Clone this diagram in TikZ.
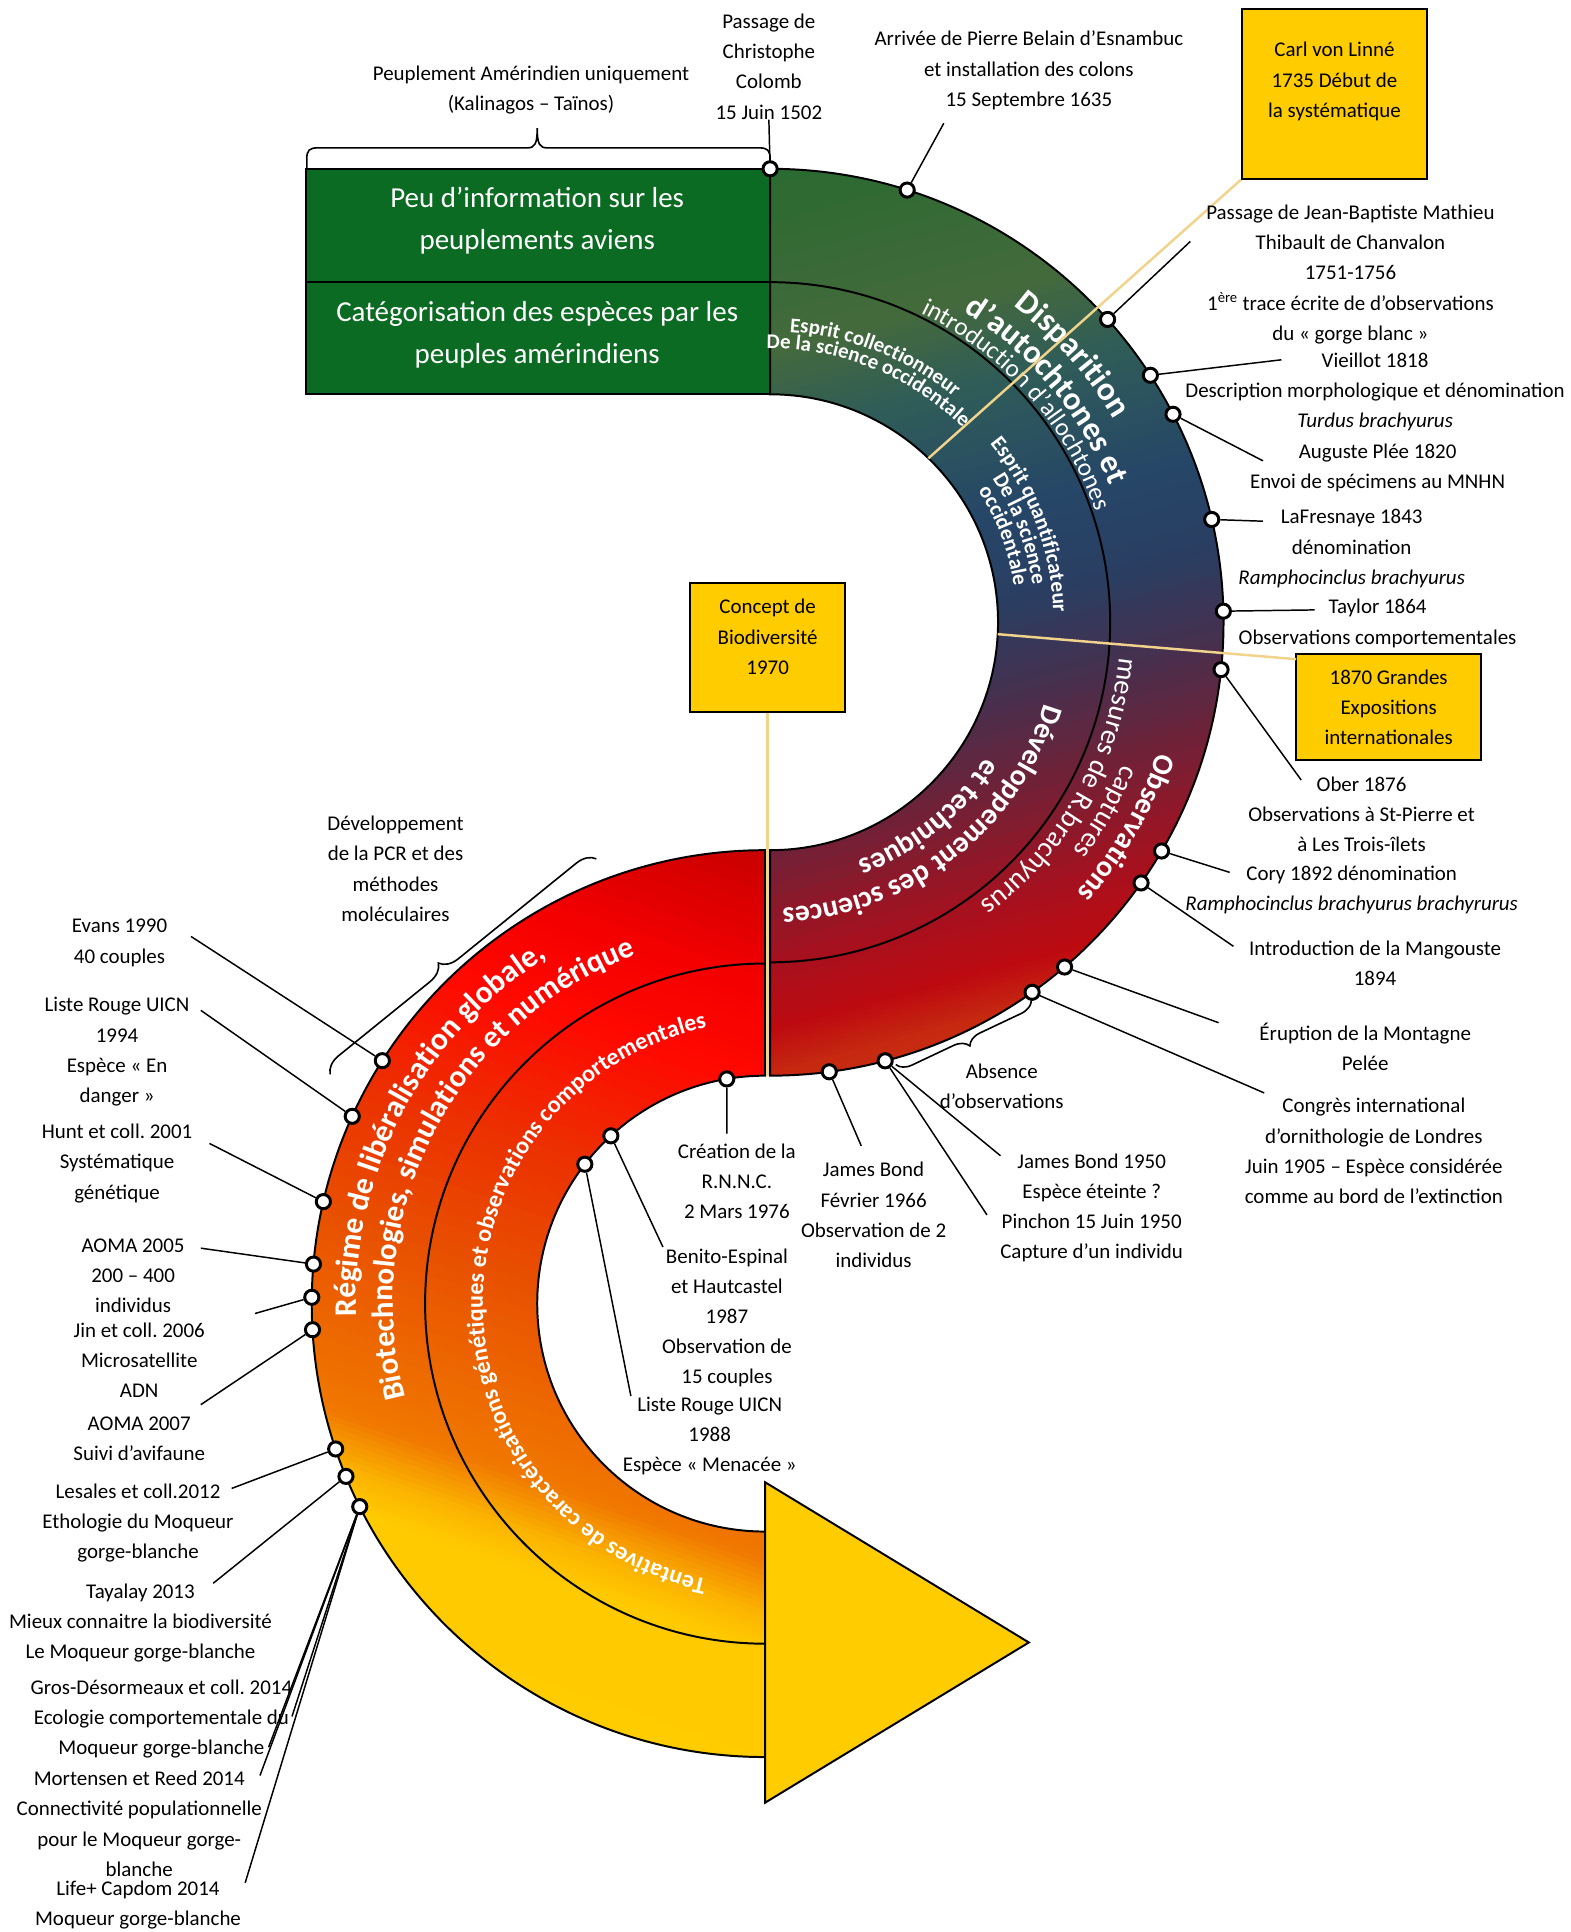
\documentclass[tikz,border=0pt]{standalone}
\usepackage{fontspec}
\setmainfont{Carlito}
\usetikzlibrary{calc,decorations.text,decorations.pathreplacing}
\frenchspacing
\definecolor{boxy}{HTML}{FFCC00}
\definecolor{gline}{HTML}{F1D38C}
\definecolor{rectg}{HTML}{0B6B22}
\definecolor{U0}{HTML}{2A6A30}
\definecolor{U1}{HTML}{446A3C}
\definecolor{U2}{HTML}{2F5C58}
\definecolor{U3}{HTML}{264668}
\definecolor{U4}{HTML}{2A3E62}
\definecolor{U5}{HTML}{46304F}
\definecolor{U6}{HTML}{6E2238}
\definecolor{U7}{HTML}{A8101E}
\definecolor{U8}{HTML}{BE0A10}
\definecolor{U9}{HTML}{C62A10}
\definecolor{L0}{HTML}{C80000}
\definecolor{L1}{HTML}{F50000}
\definecolor{L2}{HTML}{FF0800}
\definecolor{L3}{HTML}{EC3000}
\definecolor{L4}{HTML}{E85000}
\definecolor{L5}{HTML}{EE6C00}
\definecolor{L6}{HTML}{F07800}
\definecolor{L7}{HTML}{FCB400}
\definecolor{L8}{HTML}{FFCA00}
\definecolor{L9}{HTML}{FFCC00}
\newcommand\sx{\rule{0pt}{14pt}}
\newcommand\sg{\rule{0pt}{19pt}}
\newcommand\wB[1]{\color{white}\bfseries\fontsize{#1}{#1}\selectfont}
\newcommand\wR[1]{\color{white}\fontsize{#1}{#1}\selectfont}
\newcommand\arctxt[6]{\path[decorate,decoration={text along path,text align=center,text={|#5|#6}}] ($(#1)+(#3:#2)$) arc[start angle=#3,end angle=#4,radius=#2];}
\begin{document}
\begin{tikzpicture}[x=1pt,y=1pt,
  lbl/.style={align=center,anchor=north,inner sep=0pt,font=\fontsize{17}{24.5}\selectfont},
  gtxt/.style={align=center,anchor=north,inner sep=0pt,text=white,font=\fontsize{23.5}{34}\selectfont},
  tdot/.style={circle,fill=white,draw=black,line width=2.4pt,minimum size=11.5pt,inner sep=0pt},
  conn/.style={line width=1.2pt},
  outl/.style={line width=1.6pt},
  yl/.style={draw=gline,line width=2pt},
  tbox/.style={draw,line width=1.5pt,fill=boxy,inner sep=0pt},
  brc/.style={line width=1.3pt,decorate}]
\useasboundingbox (0,0) rectangle (1275,-1568);
\fill[white] (0,0) rectangle (1275,-1568);
\coordinate (C1) at (625,-505);
\coordinate (C2) at (621,-1058);

% upper annulus
\begin{scope}
\clip (625,-137) arc[start angle=90,end angle=-90,radius=368] -- (625,-690) arc[start angle=-90,end angle=90,radius=185] -- cycle;
\begin{scope}[shift={(625,-505)},rotate=15]
\fill[U0] (-130,350) rectangle (400,420);
\fill[U9] (-130,-350) rectangle (400,-420);
\foreach \ta/\tb/\ca/\cb in {0/0.2/U0/U1,0.2/0.3/U1/U2,0.3/0.45/U2/U3,0.45/0.55/U3/U4,0.55/0.65/U4/U5,0.65/0.75/U5/U6,0.75/0.88/U6/U7,0.88/0.95/U7/U8,0.95/1/U8/U9}{
  \foreach \k in {0,...,9}{
    \pgfmathsetmacro\ya{356-712*(\ta+(\tb-\ta)*\k/10)}
    \pgfmathsetmacro\yb{\ya-712*(\tb-\ta)/10-1.5}
    \pgfmathtruncatemacro\pp{10*\k+5}
    \fill[fill=\cb!\pp!\ca] (-130,\ya) rectangle (400,\yb);
  }
}
\end{scope}
\end{scope}
\draw[outl] (625,-137) arc[start angle=90,end angle=-90,radius=368] -- (625,-690) arc[start angle=-90,end angle=90,radius=185] -- cycle;

% lower annulus
\begin{scope}
\clip (621,-690) arc[start angle=90,end angle=270,radius=368] -- (621,-1243) arc[start angle=270,end angle=90,radius=185] -- cycle;
\begin{scope}[shift={(621,-1058)},rotate=-19]
\fill[L0] (-420,340) rectangle (160,420);
\fill[L9] (-420,-360) rectangle (160,-440);
\foreach \ta/\tb/\ca/\cb in {0/0.15/L0/L1,0.15/0.25/L1/L2,0.25/0.4/L2/L3,0.4/0.55/L3/L4,0.55/0.7/L4/L5,0.7/0.76/L5/L6,0.76/0.82/L6/L7,0.82/0.86/L7/L8,0.86/1/L8/L9}{
  \foreach \k in {0,...,9}{
    \pgfmathsetmacro\ya{348-716*(\ta+(\tb-\ta)*\k/10)}
    \pgfmathsetmacro\yb{\ya-716*(\tb-\ta)/10-1.5}
    \pgfmathtruncatemacro\pp{10*\k+5}
    \fill[fill=\cb!\pp!\ca] (-420,\ya) rectangle (160,\yb);
  }
}
\end{scope}
\end{scope}
\draw[outl] (621,-690) arc[start angle=90,end angle=270,radius=368] -- (621,-1243) arc[start angle=270,end angle=90,radius=185] -- cycle;

% arrow head
\draw[outl,fill=boxy] (621,-1203) -- (835,-1333) -- (621,-1463) -- cycle;

% green rectangles
\node[draw,outl,fill=rectg,minimum width=377pt,minimum height=92pt,inner sep=0pt] (gTop) at (436.5,-183) {};
\node[draw,outl,fill=rectg,minimum width=377pt,minimum height=91pt,inner sep=0pt] (gBot) at (436.5,-274.5) {};
\node[gtxt] (tgTop) at (436,-149) {\sg Peu d’information sur les\\peuplements aviens};
\node[gtxt] (tgBot) at (436,-242) {\sg Catégorisation des espèces par les\\peuples amérindiens};

% middle arcs
\draw[outl] (625,-229) arc[start angle=90,end angle=-90,radius=276];
\draw[outl] (621,-782) arc[start angle=90,end angle=270,radius=276];

% texts along the arcs
\arctxt{C1}{324}{81.5}{1.5}{\wB{27}}{Disparition}
\arctxt{C1}{297}{80}{0}{\wB{26.5}}{d’autochtones et}
\arctxt{C1}{279}{81.4}{1.4}{\wR{20.5}}{introduction d’allochtones}
\arctxt{C1}{236}{108.5}{28.5}{\wB{17}}{Esprit collectionneur}
\arctxt{C1}{222}{108}{28}{\wB{17}}{De la science occidentale}
\arctxt{C1}{230}{60.6}{-19.4}{\wB{17.5}}{Esprit quantificateur}
\arctxt{C1}{215}{60.5}{-19.5}{\wB{17.5}}{De la science}
\arctxt{C1}{200}{60.4}{-19.6}{\wB{17.5}}{occidentale}
\arctxt{C1}{232}{-2}{-102}{\wB{24}}{Développement des sciences}
\arctxt{C1}{206}{-1}{-101}{\wB{24}}{et techniques}
\arctxt{C1}{332}{10}{-70}{\wB{24}}{Observations}
\arctxt{C1}{308}{10.5}{-69.5}{\wR{23}}{captures}
\arctxt{C1}{285}{10.5}{-69.5}{\wR{23}}{mesures de R.brachyurus}
\arctxt{C2}{332}{212}{92}{\wB{25.5}}{Régime de libéralisation globale,}
\arctxt{C2}{302}{222.5}{82.5}{\wB{25}}{Biotechnologies, simulations et numérique}
\arctxt{C2}{229}{285}{75}{\wB{19.5}}{Tentatives de caractérisations génétiques et observations comportementales}

% yellow boxes
\node[tbox,minimum width=150pt,minimum height=138pt] (bLinne) at (1083,-76) {};
\node[tbox,minimum width=126pt,minimum height=105pt] (bConc) at (623,-525.5) {};
\node[tbox,minimum width=150pt,minimum height=86pt] (b1870) at (1127,-574) {};
\node[lbl] (tLinne) at (1083,-32) {\sx Carl von Linné\\1735 Début de\\la systématique};
\node[lbl] (tConc) at (623,-484) {\sx Concept de\\Biodiversité\\1970};
\node[lbl] (t1870) at (1127,-541) {\sx 1870 Grandes\\Expositions\\internationales};

% pale yellow lines
\coordinate (y1) at ($(C1)+(46:185)$);
\coordinate (y2) at ($(C1)+(-3:185)$);
\coordinate (yb2) at (1052,-535);
\coordinate (y3) at (623,-873);
\draw[yl] (bLinne.south west) -- (y1);
\draw[yl] (y2) -- (yb2);
\draw[yl] (bConc.south) -- (y3);

% braces
\draw[line width=1.3pt] (249,-137) -- (249,-129) .. controls (249,-122) and (251,-120) .. (258,-120) -- (428,-120) .. controls (434,-120) and (436,-117) .. (436,-104) .. controls (436,-117) and (438,-120) .. (444,-120) -- (616,-120) .. controls (623,-120) and (625,-122) .. (625,-129) -- (625,-137);
\draw[brc,decoration={brace,amplitude=15pt,aspect=0.45}] (268,-872) -- (484,-697);
\draw[brc,decoration={brace,amplitude=12pt,aspect=0.5}] (837,-812) -- (727,-864);

% labels
\node[lbl] (lPeup) at (431,-51) {\sx Peuplement Amérindien uniquement\\(Kalinagos – Taïnos)};
\node[lbl] (lColomb) at (624,-9) {\sx Passage de\\Christophe\\Colomb\\15 Juin 1502};
\node[lbl] (lEsn) at (835,-23) {\sx Arrivée de Pierre Belain d’Esnambuc\\et installation des colons\\15 Septembre 1635};
\node[lbl] (lChan) at (1096,-164) {\sx Passage de Jean-Baptiste Mathieu\\Thibault de Chanvalon\\1751-1756\\1\textsuperscript{ère} trace écrite de d’observations\\du « gorge blanc »};
\node[lbl] (lVieil) at (1116,-284) {\sx Vieillot 1818\\Description morphologique et dénomination\\\textit{Turdus brachyurus}};
\node[lbl] (lPlee) at (1118,-358) {\sx Auguste Plée 1820\\Envoi de spécimens au MNHN};
\node[lbl] (lLaF) at (1097,-411) {\sx LaFresnaye 1843\\dénomination\\\textit{Ramphocinclus brachyurus}};
\node[lbl] (lTay) at (1118,-484) {\sx Taylor 1864\\Observations comportementales};
\node[lbl] (lOber) at (1105,-628) {\sx Ober 1876\\Observations à St-Pierre et\\à Les Trois-îlets};
\node[lbl] (lCory) at (1097,-700) {\sx Cory 1892 dénomination\\\textit{Ramphocinclus brachyurus brachyrurus}};
\node[lbl] (lMang) at (1116,-761) {\sx Introduction de la Mangouste\\1894};
\node[lbl] (lPelee) at (1108,-830) {\sx Éruption de la Montagne\\Pelée};
\node[lbl] (lCong) at (1115,-889) {\sx Congrès international\\d’ornithologie de Londres\\Juin 1905 – Espèce considérée\\comme au bord de l’extinction};
\node[lbl] (lJB50) at (886,-934) {\sx James Bond 1950\\Espèce éteinte ?\\Pinchon 15 Juin 1950\\Capture d’un individu};
\node[lbl] (lJB66) at (709,-941) {\sx James Bond\\Février 1966\\Observation de 2\\individus};
\node[lbl] (lAbs) at (813,-861) {\sx Absence\\d’observations};
\node[lbl] (lRNNC) at (598,-926) {\sx Création de la\\R.N.N.C.\\2 Mars 1976};
\node[lbl] (lBen) at (590,-1011) {\sx Benito-Espinal\\et Hautcastel\\1987\\Observation de\\15 couples};
\node[lbl] (lLR88) at (576,-1131) {\sx Liste Rouge UICN\\1988\\Espèce « Menacée »};
\node[lbl] (lPCR) at (321,-660) {\sx Développement\\de la PCR et des\\méthodes\\moléculaires};
\node[lbl] (lEvans) at (97,-743) {\sx Evans 1990\\40 couples};
\node[lbl] (lLR94) at (95,-807) {\sx Liste Rouge UICN\\1994\\Espèce « En\\danger »};
\node[lbl] (lHunt) at (95,-910) {\sx Hunt et coll. 2001\\Systématique\\génétique};
\node[lbl] (lA05) at (108,-1002) {\sx AOMA 2005\\200 – 400\\individus};
\node[lbl] (lJin) at (113,-1071) {\sx Jin et coll. 2006\\Microsatellite\\ADN};
\node[lbl] (lA07) at (113,-1147) {\sx AOMA 2007\\Suivi d’avifaune};
\node[lbl] (lLes) at (112,-1202) {\sx Lesales et coll.2012\\Ethologie du Moqueur\\gorge-blanche};
\node[lbl] (lTaya) at (114,-1283) {\sx Tayalay 2013\\Mieux connaitre la biodiversité\\Le Moqueur gorge-blanche};
\node[lbl] (lGros) at (131,-1361) {\sx Gros-Désormeaux et coll. 2014\\Ecologie comportementale du\\Moqueur gorge-blanche};
\node[lbl] (lMort) at (113,-1435) {\sx Mortensen et Reed 2014\\Connectivité populationnelle\\pour le Moqueur gorge-\\blanche};
\node[lbl] (lLife) at (112,-1524) {\sx Life+ Capdom 2014\\Moqueur gorge-blanche};

% dots
\node[tdot] (d1) at ($(C1)+(90:368)$) {};
\node[tdot] (d2) at ($(C1)+(72.4:368)$) {};
\node[tdot] (d3) at ($(C1)+(41.9:368)$) {};
\node[tdot] (d4) at ($(C1)+(33:368)$) {};
\node[tdot] (d5) at ($(C1)+(27.3:368)$) {};
\node[tdot] (d6) at ($(C1)+(13.1:368)$) {};
\node[tdot] (d7) at ($(C1)+(1.4:368)$) {};
\node[tdot] (d8) at ($(C1)+(-6:368)$) {};
\node[tdot] (d9) at ($(C1)+(-30.3:368)$) {};
\node[tdot] (d10) at ($(C1)+(-35.1:368)$) {};
\node[tdot] (d11) at ($(C1)+(-49.5:368)$) {};
\node[tdot] (d12) at ($(C1)+(-54.7:368)$) {};
\node[tdot] (d13) at ($(C1)+(-75.3:368)$) {};
\node[tdot] (d14) at ($(C1)+(-82.5:368)$) {};
\node[tdot] (d15) at ($(C2)+(99.7:185)$) {};
\node[tdot] (d16) at ($(C2)+(132.6:185)$) {};
\node[tdot] (d17) at ($(C2)+(142.3:185)$) {};
\node[tdot] (d18) at ($(C2)+(147.6:368)$) {};
\node[tdot] (d19) at ($(C2)+(155.6:368)$) {};
\node[tdot] (d20) at ($(C2)+(167:368)$) {};
\node[tdot] (d21) at ($(C2)+(175:368)$) {};
\node[tdot] (d22) at ($(C2)+(179.2:368)$) {};
\node[tdot] (d23) at ($(C2)+(183.3:368)$) {};
\node[tdot] (d24) at ($(C2)+(198.7:368)$) {};
\node[tdot] (d25) at ($(C2)+(202.4:368)$) {};
\node[tdot] (d26) at ($(C2)+(206.6:368)$) {};

% connector ends
\coordinate (e2) at (766,-100);
\coordinate (e3) at (966,-196);
\coordinate (e4) at (1040,-292);
\coordinate (e5) at (1025,-374);
\coordinate (e6) at (1025,-423);
\coordinate (e7) at (1067,-495);
\coordinate (e8) at (1056,-633);
\coordinate (e9) at (998,-708);
\coordinate (e10) at (1001,-768);
\coordinate (e11) at (989,-830);
\coordinate (e12) at (1026,-887);
\coordinate (e13a) at (812,-938);
\coordinate (e13b) at (801,-986);
\coordinate (e14) at (699,-930);
\coordinate (e15) at (590,-920);
\coordinate (e16) at (538,-1012);
\coordinate (e17) at (512,-1133);
\coordinate (e18) at (155,-760);
\coordinate (e19) at (163,-820);
\coordinate (e20) at (170,-928);
\coordinate (e21) at (163,-1013);
\coordinate (e22) at (207,-1066);
\coordinate (e23) at (163,-1140);
\coordinate (e24) at (188,-1208);
\coordinate (e25) at (173,-1285);
\coordinate (e26a) at (237,-1393);
\coordinate (e26b) at (218,-1418);
\coordinate (e26c) at (211,-1441);
\coordinate (e26d) at (199,-1528);

\draw[conn] (lColomb.south) -- (d1);
\draw[conn] (d2) -- (e2);
\draw[conn] (d3) -- (e3);
\draw[conn] (d4) -- (e4);
\draw[conn] (d5) -- (e5);
\draw[conn] (d6) -- (e6);
\draw[conn] (d7) -- (e7);
\draw[conn] (d8) -- (e8);
\draw[conn] (d9) -- (e9);
\draw[conn] (d10) -- (e10);
\draw[conn] (d11) -- (e11);
\draw[conn] (d12) -- (e12);
\draw[conn] (d13) -- (e13a);
\draw[conn] (d13) -- (e13b);
\draw[conn] (d14) -- (e14);
\draw[conn] (d15) -- (e15);
\draw[conn] (d16) -- (e16);
\draw[conn] (d17) -- (e17);
\draw[conn] (d18) -- (e18);
\draw[conn] (d19) -- (e19);
\draw[conn] (d20) -- (e20);
\draw[conn] (d21) -- (e21);
\draw[conn] (d22) -- (e22);
\draw[conn] (d23) -- (e23);
\draw[conn] (d24) -- (e24);
\draw[conn] (d25) -- (e25);
\draw[conn] (d26) -- (e26a);
\draw[conn] (d26) -- (e26b);
\draw[conn] (d26) -- (e26c);
\draw[conn] (d26) -- (e26d);
\end{tikzpicture}
\end{document}
